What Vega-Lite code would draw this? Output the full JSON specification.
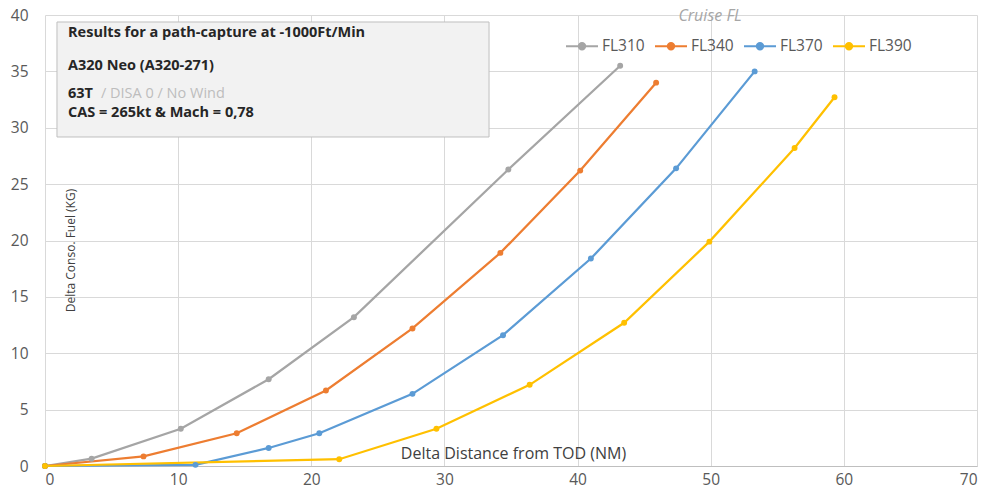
{
  "$schema": "https://vega.github.io/schema/vega-lite/v6.json",
  "width": 932,
  "height": 451,
  "autosize": "none",
  "padding": {"left": 45, "top": 15, "right": 11, "bottom": 25},
  "background": "white",
  "config": {
    "view": {"stroke": null},
    "font": "Open Sans"
  },
  "datasets": {
    "series": [
      {"fl": "FL310", "x": 0, "y": 0},
      {"fl": "FL310", "x": 3.5, "y": 0.65},
      {"fl": "FL310", "x": 10.2, "y": 3.3},
      {"fl": "FL310", "x": 16.8, "y": 7.7},
      {"fl": "FL310", "x": 23.2, "y": 13.2},
      {"fl": "FL310", "x": 34.8, "y": 26.3},
      {"fl": "FL310", "x": 43.2, "y": 35.5},
      {"fl": "FL340", "x": 0, "y": 0},
      {"fl": "FL340", "x": 7.4, "y": 0.85},
      {"fl": "FL340", "x": 14.4, "y": 2.9},
      {"fl": "FL340", "x": 21.1, "y": 6.7},
      {"fl": "FL340", "x": 27.6, "y": 12.2},
      {"fl": "FL340", "x": 34.2, "y": 18.9},
      {"fl": "FL340", "x": 40.2, "y": 26.2},
      {"fl": "FL340", "x": 45.9, "y": 34.0},
      {"fl": "FL370", "x": 0, "y": 0},
      {"fl": "FL370", "x": 11.3, "y": 0.1},
      {"fl": "FL370", "x": 16.8, "y": 1.6},
      {"fl": "FL370", "x": 20.6, "y": 2.9},
      {"fl": "FL370", "x": 27.6, "y": 6.4},
      {"fl": "FL370", "x": 34.4, "y": 11.6},
      {"fl": "FL370", "x": 41.0, "y": 18.4},
      {"fl": "FL370", "x": 47.4, "y": 26.4},
      {"fl": "FL370", "x": 53.3, "y": 35.0},
      {"fl": "FL390", "x": 0, "y": 0},
      {"fl": "FL390", "x": 22.1, "y": 0.6},
      {"fl": "FL390", "x": 29.4, "y": 3.3},
      {"fl": "FL390", "x": 36.4, "y": 7.2},
      {"fl": "FL390", "x": 43.5, "y": 12.7},
      {"fl": "FL390", "x": 49.9, "y": 19.9},
      {"fl": "FL390", "x": 56.3, "y": 28.2},
      {"fl": "FL390", "x": 59.3, "y": 32.7}
    ],
    "box": [
      {"x": 0.9, "x2": 33.35, "y": 39.38, "y2": 29.18}
    ],
    "notesBold": [
      {"x": 1.73, "y": 38.4, "label": "Results for a path-capture at -1000Ft/Min"},
      {"x": 1.73, "y": 35.48, "label": "A320 Neo (A320-271)"},
      {"x": 1.73, "y": 32.99, "label": "63T"},
      {"x": 1.73, "y": 31.31, "label": "CAS = 265kt & Mach = 0,78"}
    ],
    "notesLight": [
      {"x": 4.2, "y": 32.99, "label": "/ DISA 0 / No Wind"}
    ],
    "legendTitle": [
      {"x": 49.95, "y": 39.9, "label": "Cruise FL"}
    ]
  },
  "encoding": {
    "x": {
      "field": "x",
      "type": "quantitative",
      "scale": {"domain": [0, 70], "nice": false, "zero": true},
      "axis": {
        "values": [0, 10, 20, 30, 40, 50, 60, 70],
        "grid": true,
        "gridColor": "#d9d9d9",
        "domainColor": "#bfbfbf",
        "ticks": false,
        "labelPadding": 6,
        "labelFontSize": 15.5,
        "labelColor": "#595959",
        "title": "Delta Distance from TOD (NM)",
        "titleFontSize": 16,
        "titleFontWeight": "normal",
        "titleColor": "#404040",
        "titleX": 468,
        "titleY": -13,
        "titleAlign": "center",
        "titleBaseline": "middle"
      }
    },
    "y": {
      "field": "y",
      "type": "quantitative",
      "scale": {"domain": [0, 40], "nice": false},
      "axis": {
        "values": [0, 5, 10, 15, 20, 25, 30, 35, 40],
        "grid": true,
        "gridColor": "#d9d9d9",
        "domain": false,
        "ticks": false,
        "labelPadding": 17,
        "labelFontSize": 15.5,
        "labelColor": "#595959",
        "title": "Delta Conso. Fuel (KG)",
        "titleFontSize": 12,
        "titleFontWeight": "normal",
        "titleColor": "#404040",
        "titleAngle": -90,
        "titleX": 25,
        "titleY": 235,
        "titleAlign": "center",
        "titleBaseline": "middle"
      }
    }
  },
  "layer": [
    {
      "data": {"name": "box"},
      "mark": {"type": "rect", "fill": "#f2f2f2", "stroke": "#bfbfbf", "strokeWidth": 1},
      "encoding": {
        "x2": {"field": "x2"},
        "y2": {"field": "y2"}
      }
    },
    {
      "data": {"name": "notesBold"},
      "mark": {"type": "text", "align": "left", "baseline": "middle", "font": "Open Sans", "fontSize": 14.5, "fontWeight": "bold", "color": "#262626"},
      "encoding": {"text": {"field": "label"}}
    },
    {
      "data": {"name": "notesLight"},
      "mark": {"type": "text", "align": "left", "baseline": "middle", "font": "Open Sans", "fontSize": 14.5, "fontWeight": "normal", "color": "#bdbdbd"},
      "encoding": {"text": {"field": "label"}}
    },
    {
      "data": {"name": "legendTitle"},
      "mark": {"type": "text", "align": "center", "baseline": "middle", "font": "Open Sans", "fontSize": 16, "fontStyle": "italic", "color": "#a6a6a6"},
      "encoding": {"text": {"field": "label"}}
    },
    {
      "data": {"name": "series"},
      "mark": {"type": "line", "strokeWidth": 2.25, "point": {"filled": true, "size": 35}},
      "encoding": {
        "color": {
          "field": "fl",
          "type": "nominal",
          "scale": {"domain": ["FL310", "FL340", "FL370", "FL390"], "range": ["#a5a5a5", "#ed7d31", "#5b9bd5", "#ffc000"]},
          "legend": {
            "orient": "none",
            "legendX": 520,
            "legendY": 14,
            "direction": "horizontal",
            "title": null,
            "labelFontSize": 15.5,
            "labelColor": "#595959",
            "labelOffset": 3,
            "columnPadding": 6,
            "symbolType": "M-1,0H1M-0.2,0a0.2,0.2 0 1,0 0.4,0a0.2,0.2 0 1,0 -0.4,0",
            "symbolSize": 1024,
            "symbolStrokeWidth": 2
          }
        }
      }
    }
  ]
}
